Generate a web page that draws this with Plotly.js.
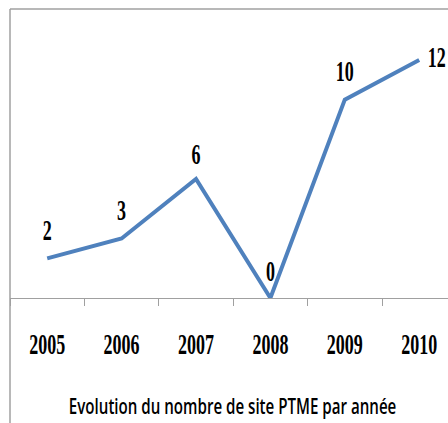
<!DOCTYPE html>
<html>
<head>
<meta charset="utf-8">
<script src="https://cdn.plot.ly/plotly-3.0.1.min.js"></script>
<style>
html,body{margin:0;padding:0;background:#fff;}
#chart{width:448px;height:423px;}
</style>
</head>
<body>
<div id="chart"></div>
<script>
var years = ["2005", "2006", "2007", "2008", "2009", "2010"];
var sites = [2, 3, 6, 0, 10, 12];
var labelPositions = ["top center", "top center", "top center", "top center", "top center", "middle right"];
var chartTitle = "Evolution du nombre de site PTME par année";

var trace = {
  x: years,
  y: sites,
  type: "scatter",
  mode: "lines+markers+text",
  text: sites.map(String),
  textposition: labelPositions,
  textfont: {family: "Liberation Serif, serif", size: 30, color: "#000", weight: "bold"},
  line: {color: "rgb(79,129,189)", width: 4},
  marker: {size: [16, 16, 10, 14, 16, 12], color: "rgba(0,0,0,0)", line: {width: 0}},
  cliponaxis: false,
  hoverinfo: "skip"
};

var layout = {
  width: 448,
  height: 423,
  margin: {l: 10, r: 0, t: 9, b: 125, pad: 0},
  paper_bgcolor: "#fff",
  plot_bgcolor: "#fff",
  showlegend: false,
  xaxis: {
    type: "category",
    range: [-0.5, 5.387],
    tickson: "boundaries",
    ticks: "outside",
    ticklen: 7,
    tickwidth: 1,
    tickcolor: "#a0a0a0",
    showline: true,
    linecolor: "#a0a0a0",
    linewidth: 1,
    showgrid: false,
    zeroline: false,
    ticklabelstandoff: 19,
    tickfont: {family: "Liberation Serif, serif", size: 30, color: "#000", weight: "bold"},
    fixedrange: true
  },
  yaxis: {
    range: [0, 14.57],
    showgrid: false,
    zeroline: false,
    showline: false,
    showticklabels: false,
    ticks: "",
    fixedrange: true
  },
  shapes: [
    {type: "line", xref: "paper", yref: "paper", x0: 0, x1: 1.01, y0: 1, y1: 1,
     line: {color: "#a0a0a0", width: 1.5}},
    {type: "line", xref: "paper", yref: "paper", x0: 0, x1: 0, y0: 1, y1: -0.45,
     line: {color: "#a0a0a0", width: 1.5}}
  ],
  annotations: [
    {text: chartTitle, xref: "paper", yref: "paper", x: 0.509, y: -0.372,
     xanchor: "center", yanchor: "middle", showarrow: false,
     font: {family: "Open Sans, sans-serif", size: 21, color: "#000", weight: 600}}
  ]
};

function condense(selector, sx) {
  document.querySelectorAll(selector).forEach(function (t) {
    var x = parseFloat(t.getAttribute("x")) || 0;
    var tr = t.getAttribute("transform") || "";
    t.setAttribute("transform", tr + " translate(" + x + ",0) scale(" + sx + ",1) translate(" + (-x) + ",0)");
  });
}

Plotly.newPlot("chart", [trace], layout, {staticPlot: true, displayModeBar: false}).then(function () {
  condense("#chart .xtick text", 0.6);
  condense("#chart .textpoint text", 0.6);
  condense("#chart .annotation-text", 0.72);
});
</script>
</body>
</html>
